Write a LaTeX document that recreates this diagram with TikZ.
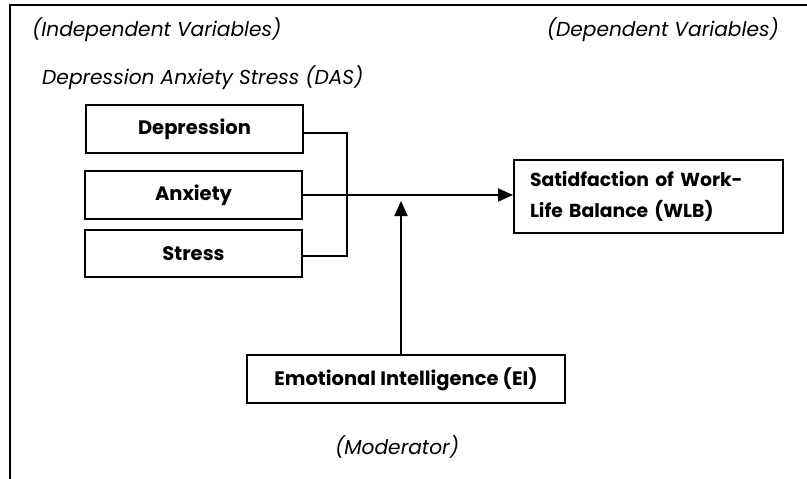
\documentclass[tikz,border=0pt]{standalone}
\usepackage{fontspec}
\setmainfont{Poppins}
\usetikzlibrary{arrows.meta}
\begin{document}
\begin{tikzpicture}[x=1pt,y=-1pt,
  box/.style={draw, line width=2pt, font=\bfseries\fontsize{19.5}{23}\selectfont, inner sep=0pt},
  lbl/.style={font=\itshape\fontsize{20.2}{24}\selectfont, inner sep=0pt},
  conn/.style={line width=2pt},
  tip/.style={-{Triangle[length=15pt,width=13pt]}}]
\useasboundingbox (0,0) rectangle (807,479);
% frame
\coordinate (fb) at (10,480);
\coordinate (ft) at (10,5);
\coordinate (fr) at (808,5);
\draw[conn, line join=miter] (fb) -- (ft) -- (fr);
% labels
\node[lbl, anchor=west] (indep) at (32,30) {(Independent Variables)};
\node[lbl, anchor=east] (depv) at (779,30) {(Dependent Variables)};
\node[lbl, anchor=west] (das) at (42,78) {Depression Anxiety Stress (DAS)};
\node[lbl] (mod) at (397,447) {(Moderator)};
% boxes
\node[box, minimum width=217pt, minimum height=48pt] (dep) at (194.5,129) {Depression};
\node[box, minimum width=217pt, minimum height=48pt] (anx) at (193.5,195) {Anxiety};
\node[box, minimum width=217pt, minimum height=47pt] (str) at (193.5,253.5) {Stress};
\node[box, minimum width=269pt, minimum height=73pt, text width=237pt, align=left,
      font=\bfseries\fontsize{18.8}{31}\selectfont] (wlb) at (648.5,196.5)
      {Satidfaction of Work-\\Life Balance (WLB)};
\node[box, minimum width=318pt, minimum height=48pt] (ei) at (406,379) {Emotional Intelligence (EI)};
% connectors
\coordinate (j) at (347,0);
\coordinate (mt) at (401,201);
\draw[conn] ([yshift=-4pt]dep.east) -- ([yshift=-4pt]dep.east -| j) -- ([yshift=-2pt]str.east -| j) -- ([yshift=-2pt]str.east);
\draw[conn, tip] (anx.east) -- (anx.east -| wlb.west);
\draw[conn, tip] (ei.north -| mt) -- (mt);
\end{tikzpicture}
\end{document}
